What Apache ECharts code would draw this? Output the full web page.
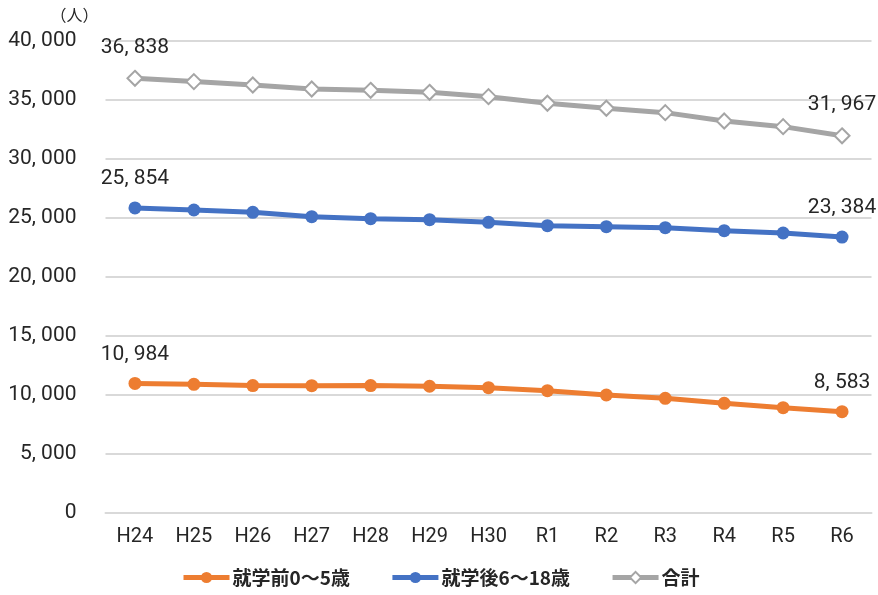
<!DOCTYPE html>
<html>
<head>
<meta charset="utf-8">
<script src="https://cdn.jsdelivr.net/npm/echarts@6/dist/echarts.min.js"></script>
<style>
  html, body { margin: 0; padding: 0; background: #fff; }
  #chart { width: 878px; height: 595px; }
</style>
</head>
<body>
<div id="chart"></div>
<script>
const categories = ["H24", "H25", "H26", "H27", "H28", "H29", "H30", "R1", "R2", "R3", "R4", "R5", "R6"];
const preschool = [10984, 10907, 10800, 10790, 10800, 10740, 10620, 10365, 10000, 9718, 9294, 8927, 8583];
const schoolAge = [25854, 25679, 25482, 25114, 24945, 24860, 24634, 24351, 24267, 24182, 23928, 23730, 23384];
const total = [36838, 36560, 36273, 35934, 35822, 35652, 35284, 34722, 34298, 33929, 33222, 32742, 31967];
const yTicks = [0, 5000, 10000, 15000, 20000, 25000, 30000, 35000, 40000];

const numFont = "Roboto, 'Noto Sans', sans-serif";
const cjkFont = "'Noto Sans CJK JP', sans-serif";

// 3桁区切り（カンマの後にスペース）
function fmt(v) {
  return String(v).replace(/\B(?=(\d{3})+(?!\d))/g, ", ");
}

// 最初と最後の点だけラベル表示
function withEndLabels(values) {
  return values.map((v, i) => ({
    value: v,
    label: { show: i === 0 || i === values.length - 1 },
  }));
}

const labelStyle = {
  position: "top",
  distance: 12,
  color: "#262626",
  fontSize: 21,
  fontFamily: numFont,
  formatter: (p) => fmt(p.value),
};

const myChart = echarts.init(document.getElementById("chart"), null, { renderer: "canvas" });

myChart.setOption({
  animation: false,
  backgroundColor: "#fff",
  grid: {
    left: 105.5,
    right: 6.5,
    top: 41,
    bottom: 82,
  },
  legend: {
    bottom: 3,
    left: 176,
    itemWidth: 46,
    itemHeight: 14,
    itemGap: 40,
    lineStyle: { width: 5 },
    textStyle: {
      color: "#262626",
      fontSize: 19,
      fontWeight: "bold",
      fontFamily: cjkFont,
      padding: [0, 0, 0, -2],
    },
    data: ["就学前0～5歳", "就学後6～18歳", "合計"],
  },
  xAxis: {
    type: "category",
    data: categories,
    axisLine: { lineStyle: { color: "#d9d9d9", width: 2 } },
    axisTick: { show: false },
    axisLabel: {
      color: "#262626",
      fontSize: 20,
      fontFamily: numFont,
      margin: 14,
    },
  },
  yAxis: {
    type: "value",
    min: yTicks[0],
    max: yTicks[yTicks.length - 1],
    interval: 5000,
    name: "（人）",
    nameGap: 18,
    nameTextStyle: {
      color: "#262626",
      fontSize: 16,
      fontFamily: cjkFont,
      align: "right",
      padding: [0, 7, 0, 0],
    },
    axisLine: { show: false },
    axisTick: { show: false },
    axisLabel: {
      color: "#262626",
      fontSize: 21,
      fontFamily: numFont,
      margin: 29,
      formatter: (v) => fmt(v),
    },
    splitLine: { lineStyle: { color: "#d9d9d9", width: 2 } },
  },
  series: [
    {
      name: "就学前0～5歳",
      type: "line",
      symbol: "circle",
      symbolSize: 13,
      lineStyle: { color: "#ED7D31", width: 5 },
      itemStyle: { color: "#ED7D31" },
      label: labelStyle,
      data: withEndLabels(preschool),
    },
    {
      name: "就学後6～18歳",
      type: "line",
      symbol: "circle",
      symbolSize: 13,
      lineStyle: { color: "#4472C4", width: 5 },
      itemStyle: { color: "#4472C4" },
      label: labelStyle,
      data: withEndLabels(schoolAge),
    },
    {
      name: "合計",
      type: "line",
      symbol: "diamond",
      symbolSize: 15,
      showAllSymbol: true,
      lineStyle: { color: "#A5A5A5", width: 5 },
      itemStyle: { color: "#fff", borderColor: "#A5A5A5", borderWidth: 2 },
      label: labelStyle,
      data: withEndLabels(total),
    },
  ],
});

window.addEventListener("resize", () => myChart.resize());
</script>
</body>
</html>
